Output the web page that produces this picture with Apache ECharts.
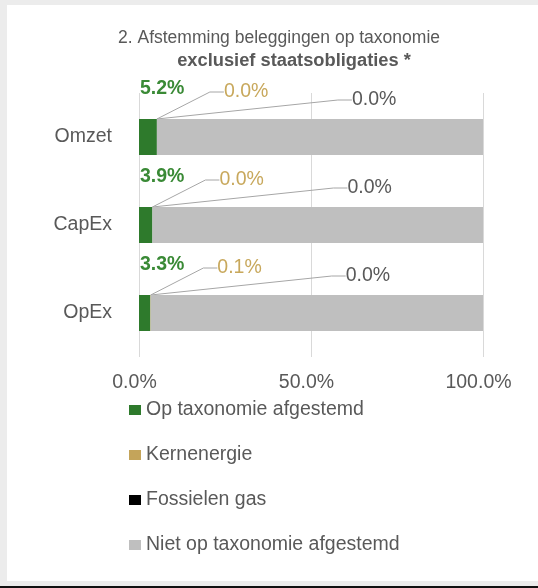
<!DOCTYPE html>
<html>
<head>
<meta charset="utf-8">
<script src="https://cdn.jsdelivr.net/npm/echarts@6/dist/echarts.min.js"></script>
<style>
  html, body { margin: 0; padding: 0; }
  body { width: 538px; height: 588px; position: relative; background: #ececec; overflow: hidden; }
  #frame { position: absolute; left: 7px; top: 5px; width: 531px; height: 576px; background: #ffffff; }
  #bottomline { position: absolute; left: 0; bottom: 0; width: 538px; height: 2px; background: #111; }
  #chart { position: absolute; left: 0; top: 0; width: 538px; height: 588px; }
</style>
</head>
<body>
<div id="frame"></div>
<div id="bottomline"></div>
<div id="chart"></div>
<script>
const categories = ['Omzet', 'CapEx', 'OpEx'];
const alignedValues = [5.2, 3.9, 3.3];
const nuclearValues = [0.0, 0.0, 0.1];
const gasValues = [0.0, 0.0, 0.0];
const notAlignedValues = [94.8, 96.1, 96.6];
const seriesNames = ['Op taxonomie afgestemd', 'Kernenergie', 'Fossielen gas', 'Niet op taxonomie afgestemd'];
const xTicks = [0, 50, 100];
const titleLine1 = '2. Afstemming beleggingen op taxonomie';
const titleLine2 = 'exclusief staatsobligaties *';

const FONT = "'Liberation Sans', Arial, sans-serif";
const TXT = '#595959';
const FS = 19.5;
const COLORS = ['#2e7a2c', '#c4a45a', '#000000', '#bfbfbf'];
const pct = p => p.value.toFixed(1) + '%';

const chart = echarts.init(document.getElementById('chart'), null, { renderer: 'canvas' });

const leader = { show: true, length2: 14, lineStyle: { color: '#a6a6a6', width: 1 } };

chart.setOption({
  backgroundColor: 'transparent',
  animation: false,
  title: [
    { text: titleLine1, left: 274, top: 24, textAlign: 'center',
      textStyle: { fontFamily: FONT, fontSize: 17.5, fontWeight: 'normal', color: TXT } },
    { text: titleLine2, left: 289, top: 47, textAlign: 'center',
      textStyle: { fontFamily: FONT, fontSize: 18.3, fontWeight: 'bold', color: TXT } }
  ],
  grid: { left: 139, right: 55, top: 93, bottom: 231, containLabel: false },
  xAxis: {
    type: 'value', min: 0, max: 100, interval: 50,
    axisLine: { show: false }, axisTick: { show: false },
    splitLine: { show: true, lineStyle: { color: '#d9d9d9', width: 1 } },
    axisLabel: { margin: 16, fontFamily: FONT, fontSize: FS, color: TXT,
      padding: [0, 9, 0, 0],
      formatter: v => xTicks.indexOf(v) >= 0 ? v.toFixed(1) + '%' : '' }
  },
  yAxis: {
    type: 'category', data: categories, inverse: true,
    axisLine: { show: false }, axisTick: { show: false },
    axisLabel: { margin: 27, fontFamily: FONT, fontSize: FS, color: TXT }
  },
  legend: {
    orient: 'vertical', left: 124, top: 395, itemWidth: 12, itemHeight: 10, itemGap: 25,
    icon: 'rect', data: seriesNames,
    textStyle: { fontFamily: FONT, fontSize: FS, color: TXT }
  },
  series: [
    { name: seriesNames[0], type: 'bar', stack: 'a', data: alignedValues, barWidth: 36,
      itemStyle: { color: COLORS[0] },
      label: { show: true, position: [1, -30], align: 'left', verticalAlign: 'middle',
        formatter: pct, fontFamily: FONT, fontSize: FS, fontWeight: 'bold', color: '#3a8a36' } },
    { name: seriesNames[1], type: 'bar', stack: 'a', data: nuclearValues,
      itemStyle: { color: COLORS[1] },
      label: { show: true, position: [67, -27], align: 'left', verticalAlign: 'middle',
        formatter: pct, fontFamily: FONT, fontSize: FS, color: '#c8a85c' },
      labelLine: leader },
    { name: seriesNames[2], type: 'bar', stack: 'a', data: gasValues,
      itemStyle: { color: COLORS[2] },
      label: { show: true, position: [195, -19], align: 'left', verticalAlign: 'middle',
        formatter: pct, fontFamily: FONT, fontSize: FS, color: TXT },
      labelLine: leader },
    { name: seriesNames[3], type: 'bar', stack: 'a', data: notAlignedValues,
      itemStyle: { color: COLORS[3] }, label: { show: false } }
  ]
});
</script>
</body>
</html>
